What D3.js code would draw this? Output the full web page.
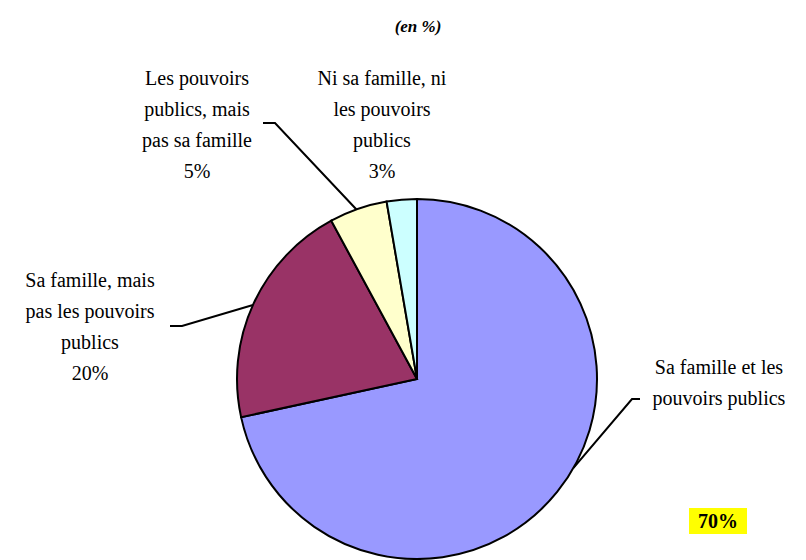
<!DOCTYPE html>
<html>
<head>
<meta charset="utf-8">
<script src="https://cdn.jsdelivr.net/npm/d3@7"></script>
<style>
  body { margin: 0; background: #fff; }
  svg text { font-family: "Liberation Serif", "Times New Roman", "DejaVu Serif", serif; }
</style>
</head>
<body>
<div id="container"></div>
<script>
"use strict";

const width = 806;
const height = 560;

// slice data (clockwise from 12 o'clock)
const categories = ["Sa famille et les pouvoirs publics", "Sa famille, mais pas les pouvoirs publics",
    "Les pouvoirs publics, mais pas sa famille", "Ni sa famille, ni les pouvoirs publics"];
const values = [71.6, 20.5, 5.2, 2.7];
const pctLabels = ["70%", "20%", "5%", "3%"];
const colors = ["#9999ff", "#993366", "#ffffcc", "#ccffff"];

// label text lines as they wrap in the picture
const labelLines = [
    ["Sa famille et les", "pouvoirs publics"],
    ["Sa famille, mais", "pas les pouvoirs", "publics", "20%"],
    ["Les pouvoirs", "publics, mais", "pas sa famille", "5%"],
    ["Ni sa famille, ni", "les pouvoirs", "publics", "3%"]
];

const cx = 417, cy = 379, radius = 180;

const svg = d3.select("#container").append("svg")
    .attr("width", width)
    .attr("height", height);

svg.append("text")
    .attr("x", 418)
    .attr("y", 32)
    .attr("text-anchor", "middle")
    .attr("font-size", 17)
    .attr("font-style", "italic")
    .attr("font-weight", "bold")
    .text("(en %)");

const pie = d3.pie().sort(null).value(d => d);
const arcs = pie(values);
const arc = d3.arc().innerRadius(0).outerRadius(radius);

// label positions (centre of first line) and leader line bends
const labelPos = [[719, 374], [90, 287], [197, 85], [382, 85]];
const lineH = 31;
const leaders = [
    { angleFrac: 0.464, pts: [[632, 399], [640, 399]] },
    { angleFrac: 0.495, pts: [[182, 326], [170, 326]] },
    { angleFrac: 0.47, pts: [[275, 123], [263, 123]] },
    null
];

leaders.forEach((ld, i) => {
    if (!ld) return;
    const a = arcs[i];
    const ang = a.startAngle + (a.endAngle - a.startAngle) * ld.angleFrac;
    const start = [cx + radius * Math.sin(ang), cy - radius * Math.cos(ang)];
    svg.append("path")
        .attr("d", d3.line()([start].concat(ld.pts)))
        .style("fill", "none")
        .style("stroke", "#000")
        .style("stroke-width", 2);
});

const g = svg.append("g").attr("transform", `translate(${cx},${cy})`);

g.selectAll("path")
    .data(arcs)
    .enter()
    .append("path")
    .attr("d", arc)
    .style("fill", (d, i) => colors[i])
    .style("stroke", "#000")
    .style("stroke-width", 2);

labelLines.forEach((lines, i) => {
    const t = svg.append("text")
        .attr("text-anchor", "middle")
        .attr("font-size", 20)
        .attr("fill", "#000");
    lines.forEach((s, j) => {
        t.append("tspan")
            .attr("x", labelPos[i][0])
            .attr("y", labelPos[i][1] + j * lineH)
            .text(s);
    });
});

// highlighted main percentage
const bx = 718, by = 528;
svg.append("rect")
    .attr("x", bx - 29)
    .attr("y", by - 20)
    .attr("width", 58)
    .attr("height", 26)
    .style("fill", "#ffff00");
svg.append("text")
    .attr("x", bx)
    .attr("y", by)
    .attr("text-anchor", "middle")
    .attr("font-size", 20)
    .attr("font-weight", "bold")
    .text(pctLabels[0]);
</script>
</body>
</html>
